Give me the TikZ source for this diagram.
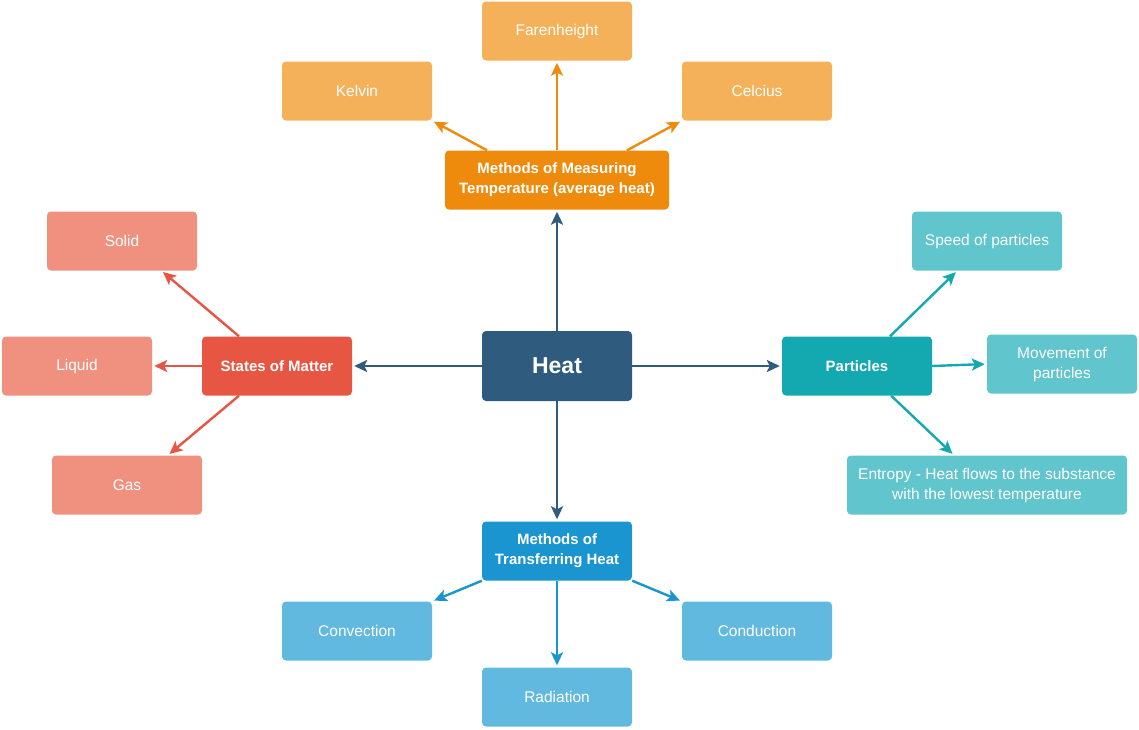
\documentclass[tikz,border=0pt]{standalone}
\usepackage{fontspec}
\setmainfont{Liberation Sans}
\usepackage{xcolor}
\definecolor{heatblue}{HTML}{2E5B7E}
\definecolor{measorange}{HTML}{EF8B0C}
\definecolor{measleaf}{HTML}{F5B05A}
\definecolor{matterred}{HTML}{E65642}
\definecolor{matterleaf}{HTML}{F0907F}
\definecolor{partteal}{HTML}{14A8B1}
\definecolor{partleaf}{HTML}{60C5CC}
\definecolor{transblue}{HTML}{1A95D0}
\definecolor{transleaf}{HTML}{62B9E0}
\usetikzlibrary{arrows.meta,positioning}

\begin{document}
\begin{tikzpicture}[
        x=1pt, y=-1pt,
        box/.style={rectangle, rounded corners=4pt, text=white, align=center, inner sep=0pt, minimum height=59pt},
        hub/.style={box, fill=heatblue, minimum width=150pt, minimum height=70pt, font=\bfseries\fontsize{23}{26}\selectfont},
        topic/.style={box, fill=#1, minimum width=150pt, font=\bfseries\fontsize{15}{20}\selectfont},
        leaf/.style={box, fill=#1, minimum width=150pt, font=\fontsize{15.5}{20}\selectfont},
        link/.style={draw=#1, line width=2.4pt, -{Stealth[length=13pt,width=12pt,inset=3pt]}, shorten >=2pt}
    ]
        \useasboundingbox (0,0) rectangle (1139,729);
        % centre
        \node[hub] (heat) at (557,366) {Heat};
        % measuring temperature
        \node[topic=measorange, minimum width=224pt] (meas) at (557,180) {Methods of Measuring\\Temperature (average heat)};
        \node[leaf=measleaf] (far) at (557,31) {Farenheight};
        \node[leaf=measleaf] (kelvin) at (357,91) {Kelvin};
        \node[leaf=measleaf] (celcius) at (757,91) {Celcius};
        % states of matter
        \node[topic=matterred] (states) at (277,366) {States of Matter};
        \node[leaf=matterleaf] (solid) at (122,241) {Solid};
        \node[leaf=matterleaf] (liquid) at (77,366) {Liquid};
        \node[leaf=matterleaf] (gas) at (127,485) {Gas};
        % particles
        \node[topic=partteal] (part) at (857,366) {Particles};
        \node[leaf=partleaf] (speed) at (987,241) {Speed of particles};
        \node[leaf=partleaf] (move) at (1062,364) {Movement of\\particles};
        \node[leaf=partleaf, minimum width=280pt] (entropy) at (987,485) {Entropy - Heat flows to the substance\\with the lowest temperature};
        % transferring heat
        \node[topic=transblue] (trans) at (557,551) {Methods of\\Transferring Heat};
        \node[leaf=transleaf] (conv) at (357,631) {Convection};
        \node[leaf=transleaf] (rad) at (557,697) {Radiation};
        \node[leaf=transleaf] (cond) at (757,631) {Conduction};

        \draw[link=heatblue] (heat.north) -- (meas.south);
        \draw[link=heatblue] (heat.west) -- (states.east);
        \draw[link=heatblue] (heat.east) -- (part.west);
        \draw[link=heatblue] (heat.south) -- (trans.north);

        \draw[link=measorange] (meas.157) -- (kelvin.south east);
        \draw[link=measorange] (meas.north) -- (far.south);
        \draw[link=measorange] (meas.23) -- (celcius.south west);

        \draw[link=matterred] (states.142) -- (solid.-37);
        \draw[link=matterred] (states.west) -- (liquid.east);
        \draw[link=matterred] (states.218) -- (gas.36);

        \draw[link=partteal] (part.42) -- (speed.225);
        \draw[link=partteal] (part.east) -- (move.west);
        \draw[link=partteal] (part.-41) -- (entropy.138);

        \draw[link=transblue] (trans.south west) -- (conv.north east);
        \draw[link=transblue] (trans.south) -- (rad.north);
        \draw[link=transblue] (trans.south east) -- (cond.north west);
    \end{tikzpicture}
\end{document}
